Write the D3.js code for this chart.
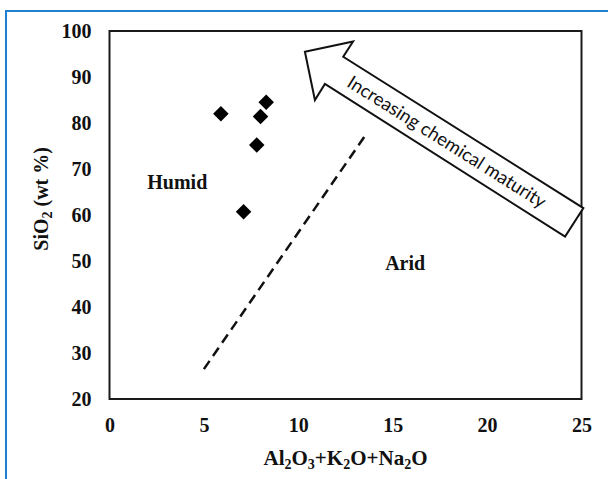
<!DOCTYPE html>
<html>
<head>
<meta charset="utf-8">
<script src="https://cdnjs.cloudflare.com/ajax/libs/d3/7.8.5/d3.min.js"></script>
<style>
  body { margin: 0; background: #fff; }
  svg text { font-family: "Liberation Serif", "Times New Roman", serif; font-weight: bold; fill: #111; }
</style>
</head>
<body>
<div id="chart"></div>
<script>
// sample composition (wt %)
const oxideSum = [5.9, 8.3, 8.0, 7.8, 7.1];     // Al2O3+K2O+Na2O
const silica   = [82.0, 84.5, 81.4, 75.2, 60.7]; // SiO2
const xTicks = [0, 5, 10, 15, 20, 25];
const yTicks = [20, 30, 40, 50, 60, 70, 80, 90, 100];
// humid / arid boundary (dashed)
const boundary = [[5.0, 26.5], [13.5, 77.0]];
// arrow outline, in axis units
const arrowShape = [[10.35, 95.5], [12.9, 97.7], [12.38, 94.4], [25.1, 61.5],
                    [24.13, 55.3], [11.41, 88.5], [10.88, 85.0]];
const arrowLabel = "Increasing chemical maturity";
const fieldLabels = [{text: "Humid", x: 2.0, y: 67.2}, {text: "Arid", x: 14.6, y: 49.6}];

var width = 608, height = 479;
var margin = {top: 31, right: 26.5, bottom: 80, left: 109.5};
var pw = width - margin.left - margin.right;
var ph = height - margin.top - margin.bottom;

var svg = d3.select("#chart")
            .append("svg")
              .attr("width", width)
              .attr("height", height);

// blue frame (left and top edges only)
svg.append("path")
    .attr("d", "M6,479 V11 H608")
    .style("fill", "none")
    .style("stroke", "#1f80d0")
    .style("stroke-width", 2);

var g = svg.append("g")
           .attr("transform", "translate(" + margin.left + "," + margin.top + ")");

var x = d3.scaleLinear().domain([0, 25]).range([0, pw]);
var y = d3.scaleLinear().domain([20, 100]).range([ph, 0]);

// axes: labels only, no tick marks
g.append("g")
    .attr("transform", "translate(0," + ph + ")")
    .call(d3.axisBottom(x).tickValues(xTicks).tickSize(0).tickPadding(19))
    .call(function(a) { a.select(".domain").remove(); })
    .selectAll("text")
      .style("font-size", "20px")
      .attr("font-family", null);

g.append("g")
    .call(d3.axisLeft(y).tickValues(yTicks).tickSize(0).tickPadding(18))
    .call(function(a) { a.select(".domain").remove(); })
    .selectAll("text")
      .style("font-size", "20px")
      .attr("font-family", null);

// plot frame
g.append("rect")
    .attr("width", pw)
    .attr("height", ph)
    .style("fill", "none")
    .style("stroke", "#1a1a1a")
    .style("stroke-width", 2);

// dashed boundary
g.append("path")
    .attr("d", d3.line().x(function(d) { return x(d[0]); }).y(function(d) { return y(d[1]); })(boundary))
    .style("fill", "none")
    .style("stroke", "#111")
    .style("stroke-width", 2.5)
    .style("stroke-dasharray", "10,6");

// arrow
g.append("path")
    .attr("d", d3.line().x(function(d) { return x(d[0]); }).y(function(d) { return y(d[1]); }).curve(d3.curveLinearClosed)(arrowShape))
    .style("fill", "#fff")
    .style("stroke", "#111")
    .style("stroke-width", 2);

var s0 = arrowShape[2], s1 = arrowShape[3], s2 = arrowShape[4], s3 = arrowShape[5];
var ang = Math.atan2(y(s1[1]) - y(s0[1]), x(s1[0]) - x(s0[0])) * 180 / Math.PI;
var cx = (x(s0[0]) + x(s3[0])) / 2 * 0.53 + (x(s1[0]) + x(s2[0])) / 2 * 0.47;
var cy = (y(s0[1]) + y(s3[1])) / 2 * 0.53 + (y(s1[1]) + y(s2[1])) / 2 * 0.47;
g.append("text")
    .attr("transform", "translate(" + cx + "," + cy + ") rotate(" + ang + ")")
    .attr("text-anchor", "middle")
    .attr("dy", "0.35em")
    .style("font-family", "Lato, 'Open Sans', sans-serif")
    .style("font-weight", "normal")
    .style("font-size", "18.5px")
    .text(arrowLabel);

// field labels
g.selectAll(".field")
    .data(fieldLabels)
    .enter().append("text")
      .attr("x", function(d) { return x(d.x); })
      .attr("y", function(d) { return y(d.y); })
      .attr("dy", "0.35em")
      .style("font-size", "20px")
      .text(function(d) { return d.text; });

// samples as diamonds
var diamond = d3.symbol().type(d3.symbolSquare).size(120);
g.selectAll(".pt")
    .data(oxideSum)
    .enter().append("path")
      .attr("d", diamond)
      .attr("transform", function(d, i) { return "translate(" + x(d) + "," + y(silica[i]) + ") rotate(45)"; })
      .style("fill", "#000");

// axis titles with subscripts
function subText(sel, parts) {
  parts.forEach(function(p) {
    if (p[1]) {
      sel.append("tspan").attr("baseline-shift", "-25%").style("font-size", "14px").text(p[0]);
    } else {
      sel.append("tspan").text(p[0]);
    }
  });
}

var xt = g.append("text")
    .attr("x", pw / 2)
    .attr("y", ph + 66)
    .attr("text-anchor", "middle")
    .style("font-size", "21px");
subText(xt, [["Al"], ["2", 1], ["O"], ["3", 1], ["+K"], ["2", 1], ["O+Na"], ["2", 1], ["O"]]);

var yt = g.append("text")
    .attr("transform", "translate(-62," + (y(63.5)) + ") rotate(-90)")
    .attr("text-anchor", "middle")
    .style("font-size", "20px");
subText(yt, [["SiO"], ["2", 1], [" (wt %)"]]);
</script>
</body>
</html>
